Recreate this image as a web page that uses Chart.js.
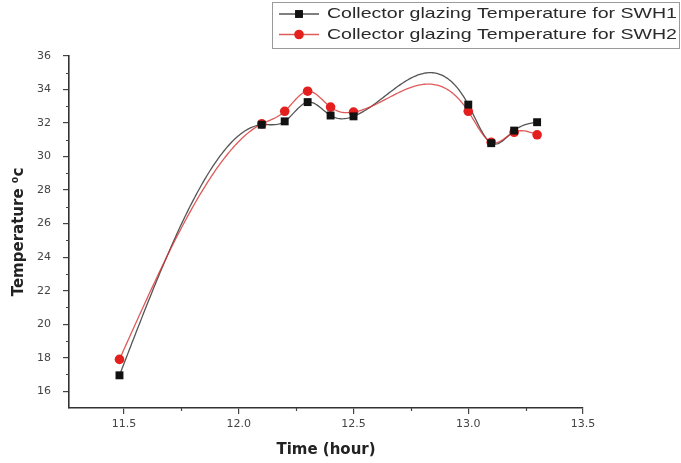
<!DOCTYPE html>
<html>
<head>
<meta charset="utf-8">
<script src="https://cdn.jsdelivr.net/npm/chart.js@4/dist/chart.umd.min.js"></script>
<style>
  html, body { margin: 0; padding: 0; background: #fff; }
  #wrap { width: 681px; height: 463px; }
</style>
</head>
<body>
<div id="wrap"><canvas id="tempChart"></canvas></div>
<script>
// readings, hour of day vs glazing temperature
var hours = [11.48, 12.1, 12.2, 12.3, 12.4, 12.5, 13.0, 13.1, 13.2, 13.3];
var swh1 = [16.95, 31.9, 32.1, 33.25, 32.45, 32.4, 33.1, 30.8, 31.55, 32.05];
var swh2 = [17.9, 31.95, 32.7, 33.9, 32.95, 32.65, 32.7, 30.85, 31.45, 31.3];
var seriesNames = ['Collector glazing Temperature for SWH1', 'Collector glazing Temperature for SWH2'];
var xTicks = [11.5, 12.0, 12.5, 13.0, 13.5];
var yTicks = [16, 18, 20, 22, 24, 26, 28, 30, 32, 34, 36];
var xMinor = [11.75, 12.25, 12.75, 13.25];
var yMinor = [17, 19, 21, 23, 25, 27, 29, 31, 33, 35];

var tickFont = { family: '"DejaVu Sans", sans-serif', size: 11 };
var titleFont = { family: '"DejaVu Sans", sans-serif', size: 15, weight: 'bold' };

// natural cubic spline through the points
function naturalSpline(xs, ys) {
  var n = xs.length, h = [], al = [], l = [], mu = [], z = [], b = [], c = [], d = [];
  for (var i = 0; i < n - 1; i++) h[i] = xs[i + 1] - xs[i];
  for (i = 1; i < n - 1; i++) al[i] = 3 / h[i] * (ys[i + 1] - ys[i]) - 3 / h[i - 1] * (ys[i] - ys[i - 1]);
  l[0] = 1; mu[0] = 0; z[0] = 0;
  for (i = 1; i < n - 1; i++) {
    l[i] = 2 * (xs[i + 1] - xs[i - 1]) - h[i - 1] * mu[i - 1];
    mu[i] = h[i] / l[i];
    z[i] = (al[i] - h[i - 1] * z[i - 1]) / l[i];
  }
  c[n - 1] = 0;
  for (var j = n - 2; j >= 0; j--) {
    c[j] = z[j] - mu[j] * c[j + 1];
    b[j] = (ys[j + 1] - ys[j]) / h[j] - h[j] * (c[j + 1] + 2 * c[j]) / 3;
    d[j] = (c[j + 1] - c[j]) / (3 * h[j]);
  }
  return function (x) {
    var k = 0;
    while (k < n - 2 && x > xs[k + 1]) k++;
    var dx = x - xs[k];
    return ys[k] + b[k] * dx + c[k] * dx * dx + d[k] * dx * dx * dx;
  };
}

var splineLines = {
  id: 'splineLines',
  beforeDatasetsDraw: function (chart) {
    var ctx = chart.ctx, xs = chart.scales.x, ys = chart.scales.y;
    chart.data.datasets.forEach(function (ds) {
      var px = ds.data.map(function (p) { return p.x; });
      var py = ds.data.map(function (p) { return p.y; });
      var f = naturalSpline(px, py);
      ctx.save();
      ctx.strokeStyle = ds.splineColor;
      ctx.lineWidth = 1.3;
      ctx.beginPath();
      var x0 = px[0], x1 = px[px.length - 1], steps = 300;
      for (var s = 0; s <= steps; s++) {
        var xv = x0 + (x1 - x0) * s / steps;
        var X = xs.getPixelForValue(xv), Y = ys.getPixelForValue(f(xv));
        if (s === 0) ctx.moveTo(X, Y); else ctx.lineTo(X, Y);
      }
      ctx.stroke();
      ctx.restore();
    });
  }
};

var minorTicks = {
  id: 'minorTicks',
  afterDraw: function (chart) {
    var ctx = chart.ctx, xs = chart.scales.x, ys = chart.scales.y, a = chart.chartArea;
    ctx.save();
    ctx.strokeStyle = '#444';
    ctx.lineWidth = 1.2;
    ctx.beginPath();
    xMinor.forEach(function (v) {
      var X = Math.round(xs.getPixelForValue(v)) + 0.5;
      ctx.moveTo(X, a.bottom); ctx.lineTo(X, a.bottom + 3);
    });
    yMinor.forEach(function (v) {
      var Y = Math.round(ys.getPixelForValue(v)) + 0.5;
      ctx.moveTo(a.left, Y); ctx.lineTo(a.left - 3, Y);
    });
    ctx.stroke();
    ctx.restore();
  }
};

// boxed legend, line sample with marker then label
var boxLegend = {
  id: 'boxLegend',
  afterDraw: function (chart) {
    var ctx = chart.ctx;
    ctx.save();
    ctx.strokeStyle = '#9a9a9a';
    ctx.lineWidth = 1;
    ctx.strokeRect(272.5, 2.5, 407, 46);
    chart.data.datasets.forEach(function (ds, i) {
      var y = 14 + i * 20.5;
      ctx.strokeStyle = ds.splineColor;
      ctx.lineWidth = 1.3;
      ctx.beginPath();
      ctx.moveTo(279, y); ctx.lineTo(319, y);
      ctx.stroke();
      ctx.fillStyle = ds.pointBackgroundColor;
      ctx.beginPath();
      if (ds.pointStyle === 'rect') {
        var s = ds.pointRadius * Math.SQRT1_2;
        ctx.rect(299 - s, y - s, 2 * s, 2 * s);
      } else {
        ctx.arc(299, y, ds.pointRadius, 0, Math.PI * 2);
      }
      ctx.fill();
      ctx.font = '15px "Liberation Sans", Arial, sans-serif';
      ctx.fillStyle = '#2a2a2a';
      ctx.textBaseline = 'middle';
      var w = ctx.measureText(ds.label).width;
      ctx.save();
      ctx.translate(327, y);
      ctx.scale(350 / w, 1);
      ctx.fillText(ds.label, 0, 0);
      ctx.restore();
    });
    ctx.restore();
  }
};

function pairs(xv, yv) {
  return xv.map(function (x, i) { return { x: x, y: yv[i] }; });
}

new Chart('tempChart', {
  type: 'line',
  data: {
    datasets: [
      {
        label: seriesNames[0],
        data: pairs(hours, swh1),
        showLine: false,
        splineColor: '#555555',
        pointStyle: 'rect',
        pointRadius: 5.6,
        pointBackgroundColor: '#111111',
        pointBorderColor: '#111111',
        pointBorderWidth: 0
      },
      {
        label: seriesNames[1],
        data: pairs(hours, swh2),
        showLine: false,
        splineColor: 'rgba(215,50,50,0.8)',
        pointStyle: 'circle',
        pointRadius: 4.8,
        pointBackgroundColor: '#e3201e',
        pointBorderColor: '#e3201e',
        pointBorderWidth: 0
      }
    ]
  },
  options: {
    responsive: true,
    maintainAspectRatio: false,
    animation: false,
    layout: { padding: { left: 0, top: 56, right: 98, bottom: 0 } },
    plugins: {
      legend: { display: false },
      tooltip: { enabled: false }
    },
    scales: {
      x: {
        type: 'linear',
        min: 11.26,
        max: 13.5,
        afterBuildTicks: function (scale) {
          scale.ticks = xTicks.map(function (v) { return { value: v }; });
        },
        afterFit: function (scale) { scale.height = 55; },
        ticks: {
          font: tickFont,
          color: '#444',
          padding: 4,
          maxRotation: 0,
          callback: function (v) { return v.toFixed(1); }
        },
        grid: { drawOnChartArea: false, tickLength: 6, tickColor: '#444', lineWidth: 1.2 },
        border: { display: true, color: '#333', width: 1.6 },
        title: { display: true, text: 'Time (hour)', font: titleFont, color: '#222', padding: { top: 4, bottom: 4 } }
      },
      y: {
        min: 15,
        max: 36,
        afterBuildTicks: function (scale) {
          scale.ticks = yTicks.map(function (v) { return { value: v }; });
        },
        afterFit: function (scale) { scale.width = 69; },
        ticks: { font: tickFont, color: '#444', padding: 12 },
        grid: { drawOnChartArea: false, tickLength: 6, tickColor: '#444', lineWidth: 1.2 },
        border: { display: true, color: '#333', width: 1.6 },
        title: { display: true, text: 'Temperature \u2070c', font: titleFont, color: '#222', padding: { top: 10, bottom: 10 } }
      }
    }
  },
  plugins: [splineLines, minorTicks, boxLegend]
});
</script>
</body>
</html>
